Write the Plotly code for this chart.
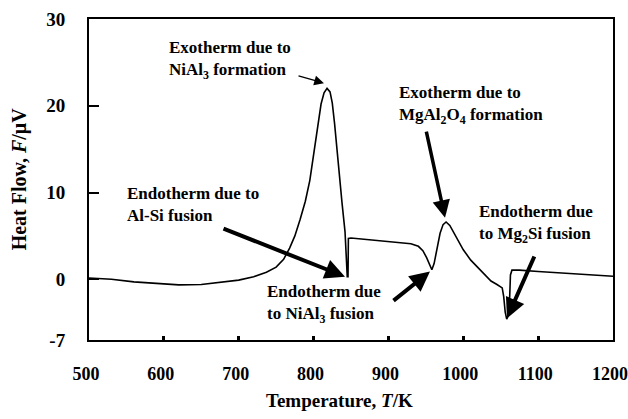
import plotly.graph_objects as go

# Temperature (K) and heat flow (µV)
temperature = [500, 530, 560, 590, 620, 650, 680, 700, 720, 737, 750, 760, 768, 775, 782,
               789, 795, 801, 806, 810, 814, 818, 822, 825, 828, 831, 834, 838, 842, 844,
               845, 846, 846.5, 850, 870, 900, 930, 940, 946, 951, 955, 958, 961, 965, 969,
               973, 977, 982, 990, 1000, 1010, 1022, 1037, 1045, 1052, 1054, 1056, 1058,
               1060, 1062, 1063, 1065, 1075, 1100, 1150, 1200]
heat_flow = [0.15, 0.0, -0.3, -0.5, -0.65, -0.6, -0.35, -0.1, 0.3, 0.8, 1.4, 2.3, 3.6, 5.0, 6.9,
             9.0, 11.4, 14.8, 18.0, 20.2, 21.5, 22.0, 21.6, 20.3, 18.0, 15.0, 12.0, 8.8, 5.5, 2.0,
             0.3, 0.3, 4.7, 4.75, 4.6, 4.4, 4.1, 3.8, 3.3, 2.5, 1.6, 1.1, 1.8, 3.5, 5.3,
             6.3, 6.6, 6.2, 4.9, 3.4, 2.2, 1.1, -0.2, -0.6, -1.0, -2.0, -3.8, -4.6,
             -4.2, -2.0, 0.5, 1.05, 1.05, 0.9, 0.6, 0.35]

x_ticks = [500, 600, 700, 800, 900, 1000, 1100, 1200]
y_ticks = [-7, 0, 10, 20, 30]

FONT = "Liberation Serif"

fig = go.Figure()
fig.add_trace(go.Scatter(x=temperature, y=heat_flow, mode="lines",
                         line=dict(color="black", width=1.6), showlegend=False))

# text labels (left-aligned blocks)
labels = [
    (604, 25.3, "Exotherm due to<br>NiAl<sub>3</sub> formation"),
    (911, 20.1, "Exotherm due to<br>MgAl<sub>2</sub>O<sub>4</sub> formation"),
    (548, 8.6, "Endotherm due to<br>Al-Si fusion"),
    (735, -2.85, "Endotherm due<br>to NiAl<sub>3</sub> fusion"),
    (1018, 6.4, "Endotherm due<br>to Mg<sub>2</sub>Si fusion"),
]
for x, y, t in labels:
    fig.add_annotation(x=x, y=y, text="<b>" + t + "</b>", showarrow=False, xanchor="left",
                       yanchor="middle", align="left",
                       font=dict(family=FONT, size=17, color="black"))

# arrows: (tip_x, tip_y, tail_x, tail_y, width)
arrows = [
    (813.9, 22.6, 777.9, 23.5, 1.3),
    (975.6, 7.1, 950.2, 17.2, 3.5),
    (842.0, 0.3, 677.7, 5.9, 4),
    (955.5, 0.9, 904.8, -2.6, 4),
    (1058.4, -4.5, 1095.8, 2.8, 4),
]
for tx, ty, ax, ay, w in arrows:
    fig.add_annotation(x=tx, y=ty, ax=ax, ay=ay, xref="x", yref="y", axref="x", ayref="y",
                       showarrow=True, arrowhead=2, arrowsize=1 if w > 2 else 1.5,
                       arrowwidth=w, arrowcolor="black", text="")

# axis titles
fig.add_annotation(xref="paper", yref="paper", x=-0.132, y=0.5, textangle=-90,
                   xanchor="center", yanchor="middle",
                   text="<b>Heat Flow, <i>F</i>/μV</b>", showarrow=False,
                   font=dict(family=FONT, size=20, color="black"))
fig.add_annotation(xref="paper", yref="paper", x=0.479, y=-0.187,
                   xanchor="center", yanchor="middle",
                   text="<b>Temperature, <i>T</i>/K</b>", showarrow=False,
                   font=dict(family=FONT, size=19, color="black"))

fig.update_xaxes(range=[500, 1200], tickvals=x_ticks,
                 ticktext=["<b>%d</b>" % v for v in x_ticks],
                 ticks="inside", ticklen=4, tickwidth=3, tickcolor="black",
                 showline=True, linecolor="black", linewidth=2, mirror=True,
                 showgrid=False, zeroline=False, ticklabelstandoff=16,
                 ticklabelshift=-3,
                 ticklabeloverflow="allow", automargin=False,
                 tickfont=dict(family=FONT, size=18, color="black"))
fig.update_yaxes(range=[-7, 30], tickvals=y_ticks,
                 ticktext=["<b>%d</b>" % v for v in y_ticks],
                 ticks="inside", ticklen=10, tickwidth=2, tickcolor="black",
                 showline=True, linecolor="black", linewidth=2, mirror=True,
                 showgrid=False, zeroline=False, ticklabelstandoff=18,
                 ticklabeloverflow="allow", automargin=False,
                 tickfont=dict(family=FONT, size=19, color="black"))

fig.update_layout(width=628, height=419, margin=dict(l=89, r=15, t=19, b=79),
                  plot_bgcolor="white", paper_bgcolor="white")

fig.write_html("out.html")
